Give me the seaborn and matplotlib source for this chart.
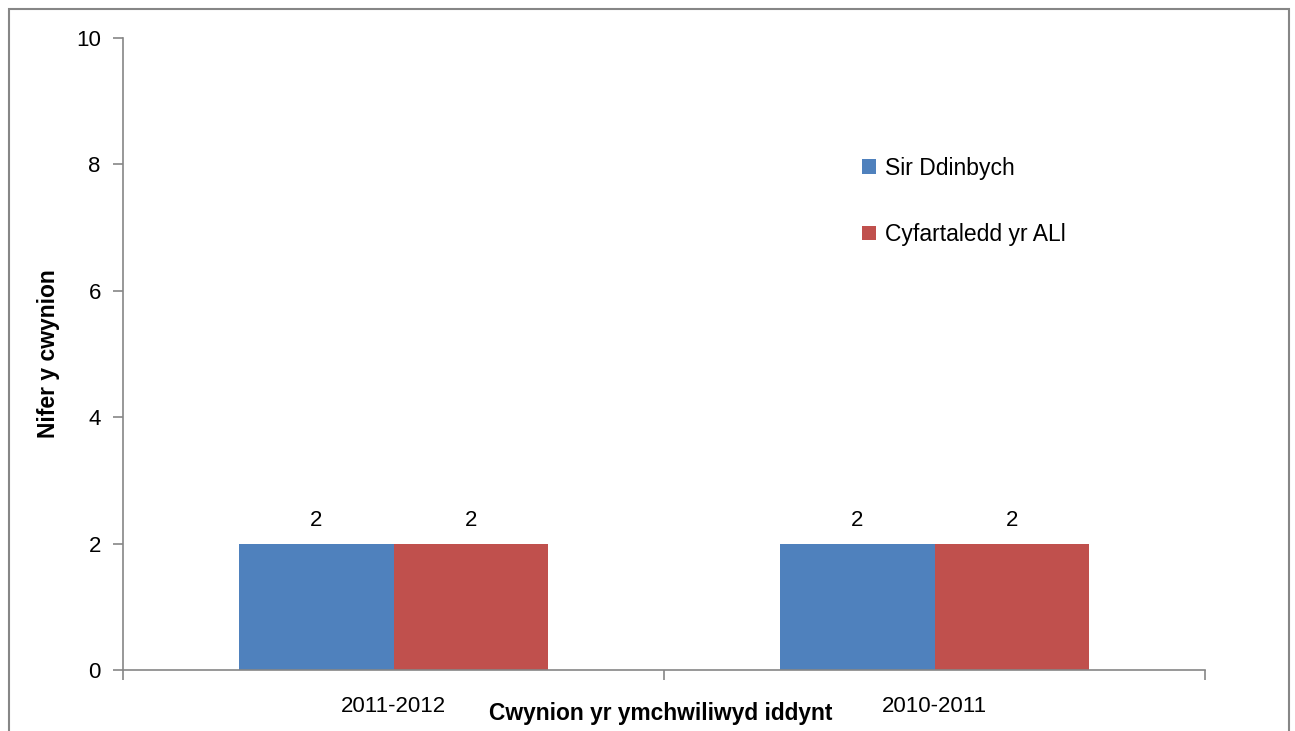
import pandas as pd
import seaborn as sns
import matplotlib.pyplot as plt
from matplotlib.patches import Rectangle

# Chart data
years = ['2011-2012', '2010-2011']
series_names = ['Sir Ddinbych', 'Cyfartaledd yr ALl']
sir_ddinbych = [2, 2]
cyfartaledd = [2, 2]
palette = ['#4F81BD', '#C0504D']

df = pd.DataFrame({
    'year': years * 2,
    'series': [series_names[0]] * len(years) + [series_names[1]] * len(years),
    'value': sir_ddinbych + cyfartaledd,
})

sns.set_style('white')
plt.rcParams['font.family'] = ['Liberation Sans', 'DejaVu Sans']
plt.rcParams['text.color'] = 'black'
plt.rcParams['axes.labelcolor'] = 'black'
plt.rcParams['xtick.labelcolor'] = 'black'
plt.rcParams['ytick.labelcolor'] = 'black'

fig = plt.figure(figsize=(12.95, 7.31), dpi=100)
ax = fig.add_axes([0.095, 0.0834, 0.8355, 0.8646])

sns.barplot(data=df, x='year', y='value', hue='series', palette=palette,
            width=0.57, gap=0, saturation=1, ax=ax, linewidth=0)

for cont in ax.containers:
    ax.bar_label(cont, fmt='%g', padding=9, fontsize=16, color='black')

ax.set_xlim(-0.5, 1.5)
ax.set_ylim(0, 10)
ax.set_yticks([0, 2, 4, 6, 8, 10])

# axis styling like Excel
for s in ['top', 'right']:
    ax.spines[s].set_visible(False)
for s in ['left', 'bottom']:
    ax.spines[s].set_color('#868686')
    ax.spines[s].set_linewidth(1.2)

ax.tick_params(axis='y', length=7, width=1.2, color='#868686', pad=9, labelsize=16, left=True)
ax.tick_params(axis='x', which='major', length=0, pad=19, labelsize=16)
ax.set_xticks([-0.5, 0.5, 1.5], minor=True)
ax.tick_params(axis='x', which='minor', length=7, width=1.2, color='#868686', bottom=True)

ax.set_ylabel('Nifer y cwynion', fontsize=16.5, fontweight='bold')
ax.yaxis.set_label_coords(-0.058, 0.5)
ax.set_xlabel('Cwynion yr ymchwiliwyd iddynt', fontsize=16.4, fontweight='bold')
ax.xaxis.set_label_coords(0.497, -0.051)

ax.legend(loc='upper left', bbox_to_anchor=(0.664, 0.845), frameon=False,
          fontsize=16.5, handlelength=0.6, handleheight=0.6, handletextpad=0.4,
          labelspacing=1.9)

# outer chart border
fig.patches.append(Rectangle((9 / 1295, -0.05), (1289 - 9) / 1295, 1.05 - 9 / 731,
                             transform=fig.transFigure, fill=False,
                             edgecolor='#868686', linewidth=1.5))

fig.savefig('out.png', dpi=100)
